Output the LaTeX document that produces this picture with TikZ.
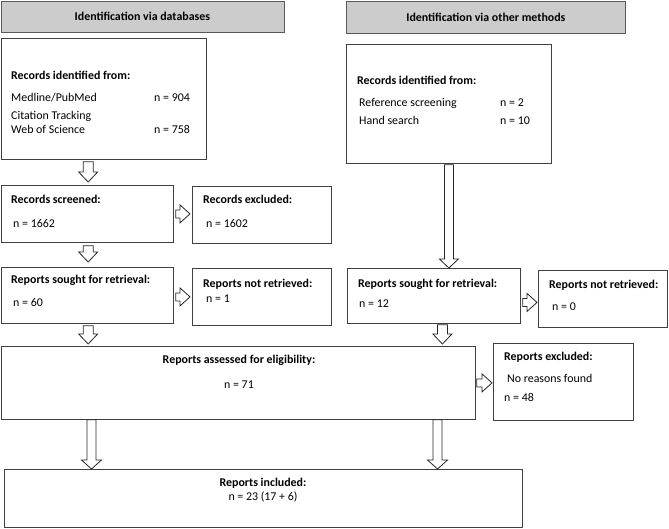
\documentclass[tikz,border=0pt]{standalone}
\usepackage{fontspec}
\setmainfont{Carlito}
\usetikzlibrary{calc}
\tikzset{
  box/.style={draw=black!75, line width=0.8pt, fill=white, inner sep=0pt, anchor=north west},
  hdr/.style={draw=black!65, line width=0.8pt, fill=black!20, inner sep=0pt, anchor=north west, font=\fontsize{11.9}{14}\selectfont\bfseries},
  txt/.style={anchor=base west, inner sep=0pt, font=\fontsize{11.9}{14}\selectfont},
  btxt/.style={anchor=base west, inner sep=0pt, font=\fontsize{11.9}{14}\selectfont\bfseries},
  ctxt/.style={anchor=base, inner sep=0pt, font=\fontsize{11.9}{14}\selectfont},
  cbtxt/.style={anchor=base, inner sep=0pt, font=\fontsize{11.9}{14}\selectfont\bfseries},
  barrow/.style={draw=black!85, line width=0.8pt, fill=white, line join=miter},
}
% block arrow pointing down: start, tip, shaft half width, head half width, head length
\newcommand\blkdown[5]{%
  \path[barrow] let \p1=#1, \p2=#2 in
    (\x1-#3,\y1) -- (\x1+#3,\y1) -- (\x1+#3,\y2+#5) -- (\x1+#4,\y2+#5) -- (\x1,\y2)
    -- (\x1-#4,\y2+#5) -- (\x1-#3,\y2+#5) -- cycle;}
% block arrow pointing right
\newcommand\blkright[5]{%
  \path[barrow] let \p1=#1, \p2=#2 in
    (\x1,\y1+#3) -- (\x2-#5,\y1+#3) -- (\x2-#5,\y1+#4) -- (\x2,\y1)
    -- (\x2-#5,\y1-#4) -- (\x2-#5,\y1-#3) -- (\x1,\y1-#3) -- cycle;}
\begin{document}
\begin{tikzpicture}[x=1pt, y=-1pt]
\useasboundingbox (0,0) rectangle (669,528);
% headers
\node[hdr, minimum width=283pt, minimum height=31pt] (h1) at (0.5,0.5) {Identification via databases};
\node[hdr, minimum width=279pt, minimum height=32pt] (h2) at (346,1) {Identification via other methods};
% boxes
\node[box, minimum width=205.5pt, minimum height=121pt] (rec1) at (0.5,38) {};
\node[box, minimum width=205pt, minimum height=119pt] (rec2) at (346,44) {};
\node[box, minimum width=172.5pt, minimum height=57pt] (scr) at (0.5,185) {};
\node[box, minimum width=139pt, minimum height=57pt] (excl) at (192,186) {};
\node[box, minimum width=172.5pt, minimum height=56pt] (sought1) at (0.5,267) {};
\node[box, minimum width=139pt, minimum height=57pt] (notret1) at (192,268) {};
\node[box, minimum width=173pt, minimum height=55pt] (sought2) at (347,268) {};
\node[box, minimum width=129pt, minimum height=57pt] (notret2) at (538,270) {};
\node[box, minimum width=474.5pt, minimum height=73pt] (assess) at (0.5,346) {};
\node[box, minimum width=140pt, minimum height=77pt] (excl2) at (493,343) {};
\node[box, minimum width=518pt, minimum height=58pt] (incl) at (4,469) {};
% texts
\node[btxt] (t1) at (11,79) {Records identified from:};
\node[txt] (t2) at (11,101) {Medline/PubMed};
\node[txt] (t3) at (154,101) {n = 904};
\node[txt] (t4) at (11,119) {Citation Tracking};
\node[txt] (t5) at (11,133) {Web of Science};
\node[txt] (t6) at (154,133) {n = 758};
\node[btxt] (u1) at (357,84) {Records identified from:};
\node[txt] (u2) at (359,106) {Reference screening};
\node[txt] (u3) at (500,106) {n = 2};
\node[txt] (u4) at (359,124) {Hand search};
\node[txt] (u5) at (500,124) {n = 10};
\node[btxt] (s1) at (11,203) {Records screened:};
\node[txt] (s2) at (13,227) {n = 1662};
\node[btxt] (e1) at (203,203) {Records excluded:};
\node[txt] (e2) at (206,227) {n = 1602};
\node[btxt] (r1) at (11,283) {Reports sought for retrieval:};
\node[txt] (r2) at (13,306) {n = 60};
\node[btxt] (n1) at (203,287) {Reports not retrieved:};
\node[txt] (n2) at (206,302) {n = 1};
\node[btxt] (r3) at (358,287) {Reports sought for retrieval:};
\node[txt] (r4) at (359,307) {n = 12};
\node[btxt] (n3) at (549,288) {Reports not retrieved:};
\node[txt] (n4) at (552,310) {n = 0};
\node[cbtxt] (a1) at (239,363) {Reports assessed for eligibility:};
\node[ctxt] (a2) at (239,388) {n = 71};
\node[btxt] (x1) at (504,360) {Reports excluded:};
\node[txt] (x2) at (507,382) {No reasons found};
\node[txt] (x3) at (504,401) {n = 48};
\node[cbtxt] (i1) at (263,486) {Reports included:};
\node[ctxt] (i2) at (263,500) {n = 23 (17 + 6)};
% down arrows
\blkdown{($(scr.north |- rec1.south)+(1,2)$)}{($(scr.north)+(1,-3)$)}{5pt}{9.5pt}{10pt}
\blkdown{($(scr.south)+(1,3)$)}{($(sought1.north)+(1,-5)$)}{5pt}{9.5pt}{10pt}
\blkdown{($(sought1.south)+(1,2)$)}{($(sought1.north |- assess.north)+(1,-2)$)}{5pt}{9.5pt}{10pt}
\blkdown{($(rec2.south)+(0,1)$)}{(rec2.south |- sought2.north)}{4.5pt}{9.5pt}{9pt}
\blkdown{($(sought2.south)+(8.5,1)$)}{($(sought2.south |- assess.north)+(8.5,-2)$)}{5pt}{9.5pt}{10pt}
\coordinate (al) at ($(assess.south west)+(91,0)$);
\coordinate (ar) at ($(assess.south west)+(437,0)$);
\blkdown{(al)}{(al |- incl.north)}{4.5pt}{10pt}{9pt}
\blkdown{(ar)}{(ar |- incl.north)}{4.5pt}{10pt}{9pt}
% right arrows
\blkright{($(scr.east)+(2,0)$)}{($(excl.west |- scr.east)+(-2,0)$)}{4pt}{9pt}{10pt}
\blkright{($(sought1.east |- notret1.west)+(2,0)$)}{($(notret1.west)+(-2,0)$)}{4pt}{9pt}{10pt}
\coordinate (sr) at ($(sought2.east)+(2,6.5)$);
\blkright{(sr)}{($(notret2.west |- sr)+(-1,0)$)}{4pt}{9pt}{10pt}
\blkright{($(assess.east)+(1,0)$)}{($(excl2.west |- assess.east)+(-1,0)$)}{4pt}{9pt}{10pt}
\end{tikzpicture}
\end{document}
